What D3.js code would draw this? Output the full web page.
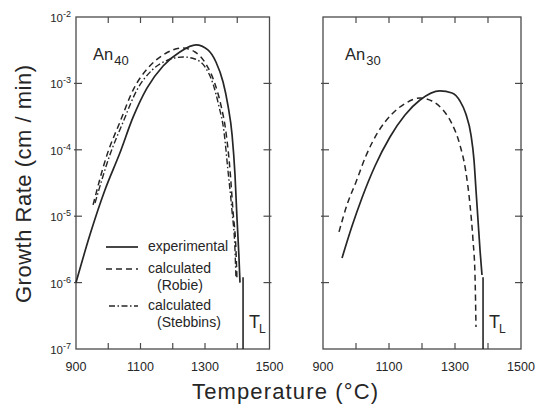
<!DOCTYPE html>
<html><head><meta charset="utf-8">
<script src="https://cdn.jsdelivr.net/npm/d3@7"></script>
<style>body{margin:0;background:#fff}svg{display:block}</style>
</head><body>
<script>
// ---- data ----
const yExponents = [-2, -3, -4, -5, -6, -7];
const xTickValues = [1000, 1100, 1200, 1300, 1400];
const xTickLabels = [900, 1100, 1300, 1500];

// An40 panel
const an40ExpT = [900, 943, 990, 1036, 1077, 1120, 1170, 1222, 1272, 1309, 1334, 1356, 1371, 1384, 1393, 1399, 1405, 1408.5];
const an40ExpR = [1.0e-6, 5.2e-6, 2.5e-5, 8.95e-5, 3.1e-4, 8.5e-4, 1.83e-3, 2.97e-3, 3.8e-3, 3.2e-3, 2.1e-3, 1.05e-3, 4.7e-4, 1.67e-4, 4.2e-5, 9.7e-6, 2.6e-6, 1.0e-6];
const an40RobieT = [953, 996, 1036, 1080, 1123, 1170, 1229, 1269, 1303, 1331, 1350, 1365, 1377.5, 1387, 1396, 1399];
const an40RobieR = [1.48e-5, 8.35e-5, 2.6e-4, 8.5e-4, 1.7e-3, 2.68e-3, 3.41e-3, 2.97e-3, 1.96e-3, 9.8e-4, 4.57e-4, 1.85e-4, 4.97e-5, 1.16e-5, 3.1e-6, 1.17e-6];
const an40StebT = [959, 1005, 1046, 1089, 1136, 1185, 1232, 1269, 1300, 1325, 1343, 1359, 1371, 1384, 1393, 1396];
const an40StebR = [1.58e-5, 8.35e-5, 2.62e-4, 7.96e-4, 1.59e-3, 2.25e-3, 2.5e-3, 2.33e-3, 1.77e-3, 9.8e-4, 4.57e-4, 1.85e-4, 4.97e-5, 1.16e-5, 3.1e-6, 1.17e-6];
const an40TL = 1418;

// An30 panel
const an30ExpT = [957.6, 988, 1018, 1057.6, 1103, 1148.5, 1194, 1254.5, 1291, 1315, 1333, 1348.5, 1357.6, 1363.6, 1369.7, 1375.8, 1381.8];
const an30ExpR = [2.34e-6, 7.1e-6, 1.88e-5, 5.7e-5, 1.56e-4, 3.34e-4, 5.62e-4, 7.7e-4, 7.17e-4, 5.43e-4, 3.46e-4, 1.67e-4, 7.0e-5, 2.48e-5, 8.8e-6, 3.1e-6, 1.3e-6];
const an30RobieT = [948.5, 972.7, 1000, 1030, 1066.7, 1109, 1151.5, 1194, 1230, 1263.6, 1291, 1315, 1333, 1345.5, 1354.5, 1360.6, 1363.6];
const an30RobieR = [5.8e-6, 1.48e-5, 3.27e-5, 8.07e-5, 1.85e-4, 3.46e-4, 5.07e-4, 6.03e-4, 5.43e-4, 3.98e-4, 2.45e-4, 1.18e-4, 4.63e-5, 1.48e-5, 4.38e-6, 1.3e-6, 2.14e-7];
const an30TL = 1385;
const tlTop = 1.2e-6;

const legendItems = [
  {lines: ["experimental"], style: "solid"},
  {lines: ["calculated", "(Robie)"], style: "robie"},
  {lines: ["calculated", "(Stebbins)"], style: "steb"}
];

// ---- drawing ----
const W = 536, H = 409;
const svg = d3.select("body").append("svg").attr("width", W).attr("height", H);
const ink = "#262626", frameCol = "#4a4a4a";
const font = "'Liberation Sans', Arial, sans-serif";
const styles = {
  solid: {w: 1.7, dash: null},
  robie: {w: 1.5, dash: "6,4"},
  steb: {w: 1.4, dash: "6,2.5,1.5,2.5"}
};

const y = d3.scaleLog().domain([1e-7, 1e-2]).range([349, 17]);

function panel(x0, x1, label, sub, labelDx, series, tl) {
  const x = d3.scaleLinear().domain([900, 1500]).range([x0, x1]);
  const g = svg.append("g");
  g.append("rect").attr("x", x0).attr("y", y(1e-2)).attr("width", x1 - x0).attr("height", y(1e-7) - y(1e-2))
    .attr("fill", "none").attr("stroke", frameCol).attr("stroke-width", 1.3);
  yExponents.slice(1, -1).forEach(e => {
    const yy = y(Math.pow(10, e));
    g.append("line").attr("x1", x0 - 2).attr("x2", x0 + 6).attr("y1", yy).attr("y2", yy).attr("stroke", frameCol).attr("stroke-width", 1.2);
    g.append("line").attr("x1", x1 + 2).attr("x2", x1 - 6).attr("y1", yy).attr("y2", yy).attr("stroke", frameCol).attr("stroke-width", 1.2);
  });
  xTickValues.forEach(t => {
    const xx = x(t);
    g.append("line").attr("x1", xx).attr("x2", xx).attr("y1", y(1e-2)).attr("y2", y(1e-2) + 6).attr("stroke", frameCol).attr("stroke-width", 1.2);
    g.append("line").attr("x1", xx).attr("x2", xx).attr("y1", y(1e-7)).attr("y2", y(1e-7) - 6).attr("stroke", frameCol).attr("stroke-width", 1.2);
  });
  xTickLabels.forEach(t => {
    g.append("text").attr("x", x(t)).attr("y", 371).attr("text-anchor", "middle")
      .attr("font-family", font).attr("font-size", 12.5).attr("fill", ink).text(t);
  });
  const line = d3.line().x(d => x(d[0])).y(d => y(d[1])).curve(d3.curveMonotoneX);
  series.forEach(s => {
    const st = styles[s.style];
    g.append("path").datum(s.T.map((t, i) => [t, s.R[i]])).attr("d", line)
      .attr("fill", "none").attr("stroke", ink).attr("stroke-width", st.w)
      .attr("stroke-dasharray", st.dash).attr("stroke-linejoin", "round");
  });
  g.append("line").attr("x1", x(tl)).attr("x2", x(tl)).attr("y1", y(tlTop)).attr("y2", y(1e-7))
    .attr("stroke", ink).attr("stroke-width", 1.6);
  const tlt = g.append("text").attr("x", x(tl) + 6).attr("y", 328).attr("font-family", font)
    .attr("font-size", 18).attr("fill", ink).text("T");
  tlt.append("tspan").attr("font-size", 12).attr("dy", 5).attr("dx", -1).text("L");
  const lt = g.append("text").attr("x", x0 + labelDx).attr("y", 60).attr("font-family", font)
    .attr("font-size", 16.5).attr("fill", ink).text(label);
  lt.append("tspan").attr("font-size", 13).attr("dy", 5).attr("dx", 1).text(sub);
  return {x, g};
}

panel(76, 269.5, "An", "40", 17, [
  {T: an40ExpT, R: an40ExpR, style: "solid"},
  {T: an40RobieT, R: an40RobieR, style: "robie"},
  {T: an40StebT, R: an40StebR, style: "steb"}
], an40TL);

panel(323, 521, "An", "30", 22, [
  {T: an30ExpT, R: an30ExpR, style: "solid"},
  {T: an30RobieT, R: an30RobieR, style: "robie"}
], an30TL);

yExponents.forEach(e => {
  const t = svg.append("text").attr("x", 71).attr("y", y(Math.pow(10, e)) + 5).attr("text-anchor", "end")
    .attr("font-family", font).attr("font-size", 11.5).attr("fill", ink).text("10");
  t.append("tspan").attr("font-size", 9).attr("dy", -5).text(String(e));
});

const legY = [247, 269, 306];
legendItems.forEach((it, i) => {
  const st = styles[it.style];
  svg.append("line").attr("x1", it.style === "steb" ? 109 : 106).attr("x2", 138).attr("y1", legY[i]).attr("y2", legY[i])
    .attr("stroke", ink).attr("stroke-width", st.w).attr("stroke-dasharray", st.dash);
  it.lines.forEach((txt, j) => {
    svg.append("text").attr("x", j === 0 ? 148 : 157).attr("y", legY[i] + 4 + j * 17)
      .attr("font-family", font).attr("font-size", 14).attr("fill", ink).text(txt);
  });
});

svg.append("text").attr("x", 285).attr("y", 399).attr("text-anchor", "middle")
  .attr("font-family", font).attr("font-size", 22).attr("fill", ink)
  .attr("textLength", 186).attr("lengthAdjust", "spacing").text("Temperature (°C)");
svg.append("text").attr("transform", "translate(31,184) rotate(-90)").attr("text-anchor", "middle")
  .attr("font-family", font).attr("font-size", 22).attr("fill", ink)
  .attr("textLength", 238).attr("lengthAdjust", "spacing").text("Growth Rate (cm / min)");
</script>
</body></html>
